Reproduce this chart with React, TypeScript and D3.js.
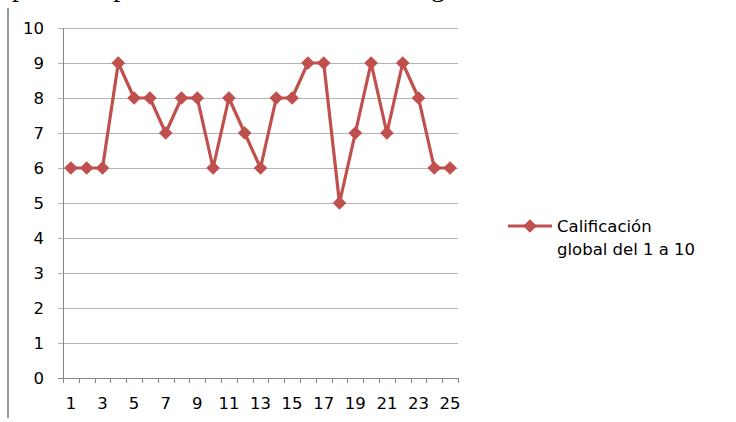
import React, { useEffect, useRef } from 'react';
import * as d3 from 'd3';

const usuarios = d3.range(1, 26);
const calificacion = [6, 6, 6, 9, 8, 8, 7, 8, 8, 6, 8, 7, 6, 8, 8, 9, 9, 5, 7, 9, 7, 9, 8, 6, 6];
const yTicks = [0, 1, 2, 3, 4, 5, 6, 7, 8, 9, 10];
const serieNombre = ['Calificación', 'global del 1 a 10'];
const textoArriba = 'puede apreciar la calificación según cada usuario.';

export default function App() {
  const ref = useRef<SVGSVGElement>(null);

  useEffect(() => {
    if (!ref.current) return;
    const svg = d3.select(ref.current);
    svg.selectAll('*').remove();

    const width = 736;
    const height = 422;
    const margin = { top: 28, right: 278, bottom: 44, left: 63 };
    const w = width - margin.left - margin.right;
    const h = height - margin.top - margin.bottom;
    const font = '"DejaVu Sans", sans-serif';
    const fs = 16.5;
    const red = '#C0504D';

    svg.attr('width', width).attr('height', height);

    // cut-off line of document text above the chart (only its bottom shows)
    svg.append('text')
      .attr('x', 12)
      .attr('y', -4)
      .attr('font-family', '"Liberation Serif", serif')
      .attr('font-size', 28)
      .attr('word-spacing', 15)
      .attr('fill', '#000')
      .text(textoArriba);

    // document border on the left
    svg.append('line')
      .attr('x1', 8).attr('x2', 8)
      .attr('y1', 8).attr('y2', 418)
      .attr('stroke', '#9a9a9a')
      .attr('stroke-width', 2);

    const x = d3.scaleBand<number>().domain(usuarios).range([0, w]);
    const y = d3.scaleLinear().domain([0, 10]).range([h, 0]);

    const g = svg.append('g').attr('transform', `translate(${margin.left},${margin.top})`);

    // gridlines
    g.selectAll('.grid')
      .data(yTicks)
      .join('line')
      .attr('class', 'grid')
      .attr('x1', -5).attr('x2', w)
      .attr('y1', (d) => y(d) + 0.5).attr('y2', (d) => y(d) + 0.5)
      .attr('stroke', (d) => (d === 0 ? '#868686' : '#b3b3b3'))
      .attr('stroke-width', 1);

    // y axis line
    g.append('line')
      .attr('x1', 0.5).attr('x2', 0.5)
      .attr('y1', 0).attr('y2', h + 5)
      .attr('stroke', '#868686');

    // x ticks at category boundaries
    const bounds = d3.range(0, usuarios.length + 1).map((i) => i * x.step());
    g.selectAll('.xtick')
      .data(bounds)
      .join('line')
      .attr('class', 'xtick')
      .attr('x1', (d) => Math.round(d) + 0.5).attr('x2', (d) => Math.round(d) + 0.5)
      .attr('y1', h).attr('y2', h + 5)
      .attr('stroke', '#868686');

    // y labels
    g.selectAll('.ylab')
      .data(yTicks)
      .join('text')
      .attr('class', 'ylab')
      .attr('x', -19)
      .attr('y', (d) => y(d))
      .attr('dy', '0.36em')
      .attr('text-anchor', 'end')
      .attr('font-family', font)
      .attr('font-size', fs)
      .attr('fill', '#000')
      .text((d) => d);

    // x labels (odd only)
    g.selectAll('.xlab')
      .data(usuarios.filter((d) => d % 2 === 1))
      .join('text')
      .attr('class', 'xlab')
      .attr('x', (d) => x(d)! + x.bandwidth() / 2)
      .attr('y', h + 31)
      .attr('text-anchor', 'middle')
      .attr('font-family', font)
      .attr('font-size', fs)
      .attr('fill', '#000')
      .text((d) => d);

    // series line
    const line = d3.line<number>()
      .x((_, i) => x(usuarios[i])! + x.bandwidth() / 2)
      .y((d) => y(d));

    g.append('path')
      .datum(calificacion)
      .attr('d', line)
      .attr('fill', 'none')
      .attr('stroke', red)
      .attr('stroke-width', 3.2)
      .attr('stroke-linejoin', 'round');

    const diamond = d3.symbol().type(d3.symbolDiamond2).size(120);

    g.selectAll('.pt')
      .data(calificacion)
      .join('path')
      .attr('class', 'pt')
      .attr('d', diamond)
      .attr('transform', (d, i) => `translate(${x(usuarios[i])! + x.bandwidth() / 2},${y(d)})`)
      .attr('fill', red);

    // legend
    const lg = svg.append('g').attr('transform', 'translate(508,226)');
    lg.append('line')
      .attr('x1', 0).attr('x2', 44)
      .attr('y1', 0).attr('y2', 0)
      .attr('stroke', red)
      .attr('stroke-width', 3.2);
    lg.append('path')
      .attr('d', diamond)
      .attr('transform', 'translate(22,0)')
      .attr('fill', red);
    lg.selectAll('.leg')
      .data(serieNombre)
      .join('text')
      .attr('class', 'leg')
      .attr('x', 49)
      .attr('y', (_, i) => 6 + i * 23)
      .attr('font-family', font)
      .attr('font-size', fs)
      .attr('fill', '#000')
      .text((d) => d);
  }, []);

  return (
    <div style={{ position: 'absolute', left: 0, top: 0 }}>
      <svg ref={ref} style={{ display: 'block' }} />
    </div>
  );
}
